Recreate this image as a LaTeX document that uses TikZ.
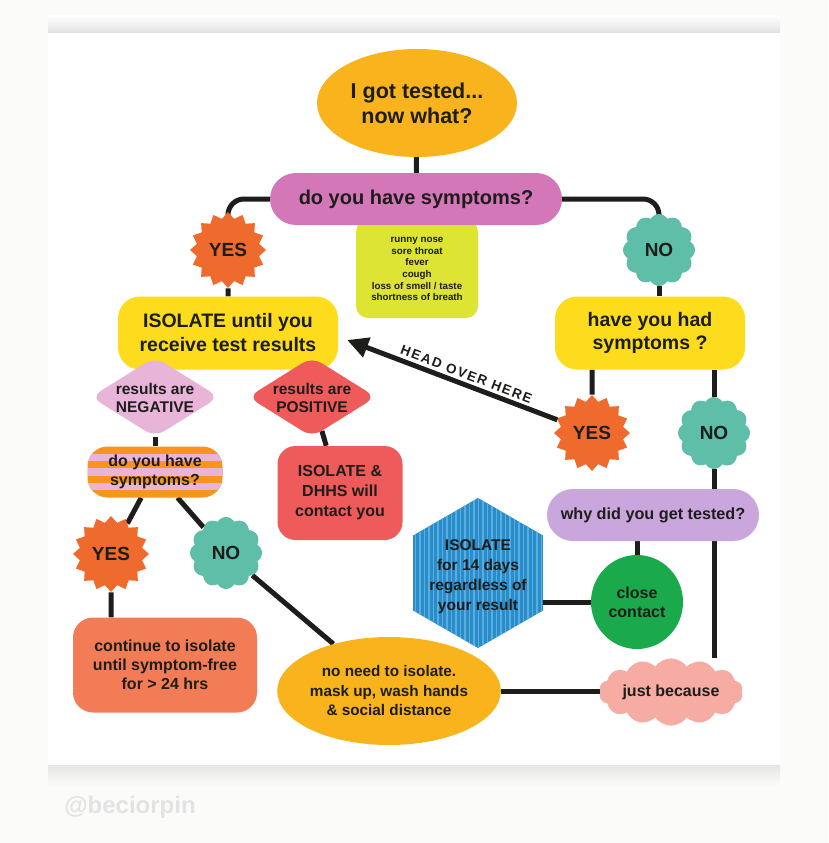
\documentclass[tikz,border=0pt]{standalone}
\usepackage{fontspec}
\setmainfont{Liberation Sans}
\usetikzlibrary{shapes.geometric,shapes.symbols,arrows.meta}

\definecolor{ink}{HTML}{1D1D1B}
\definecolor{tested}{HTML}{F9B31D}
\definecolor{orchid2}{HTML}{D377B8}
\definecolor{citrus}{HTML}{DDE434}
\definecolor{flame}{HTML}{EE6A2D}
\definecolor{mint}{HTML}{5FBEA8}
\definecolor{sun}{HTML}{FCDC1C}
\definecolor{blush}{HTML}{E8B5D9}
\definecolor{coral2}{HTML}{EF5A5B}
\definecolor{tang}{HTML}{F7951E}
\definecolor{salmon2}{HTML}{F27C56}
\definecolor{ocean}{HTML}{2A8CC8}
\definecolor{wave}{HTML}{58AEE0}
\definecolor{leaf}{HTML}{1AA94B}
\definecolor{lavender2}{HTML}{C9A7DC}
\definecolor{peach}{HTML}{F6ABA3}
\definecolor{paperbg}{HTML}{FBFBFA}

\newcommand{\fsz}[2]{\fontsize{#1}{#2}\selectfont\bfseries}
\newcommand{\zerobox}[1]{\makebox[0pt]{\raisebox{-0.5\height}[0pt][0pt]{\begin{tabular}[b]{@{}c@{}}#1\end{tabular}}}}

\pgfdeclarelayer{paper}
\pgfdeclarelayer{links}
\pgfsetlayers{paper,links,main}

\tikzset{
  blob/.style={align=center, text=ink, inner sep=0pt},
  link/.style={draw=ink, line width=5pt},
  yes/.style={blob, star, star points=16, star point ratio=1.2, fill=flame, minimum size=76pt, font=\fsz{19}{22}},
  no/.style={blob, cloud, cloud puffs=12, cloud puff arc=120, aspect=1, fill=mint, minimum size=72pt, font=\fsz{19}{22}},
  kite/.style={blob, diamond, minimum width=128pt, minimum height=80pt, rounded corners=11pt, font=\fsz{15.5}{18}},
}

\begin{document}
\begin{tikzpicture}[x=1pt, y=-1pt, >={Triangle[length=21pt,width=20pt]}]
\useasboundingbox (0,0) rectangle (828,843);
\begin{pgfonlayer}{paper}
  \fill[paperbg] (0,0) rectangle (828,843);
  \shade[top color=white, bottom color=black!12] (48,16) rectangle (780,33);
  \shade[top color=black!10, bottom color=paperbg] (48,765) rectangle (780,786);
  \fill[white] (48,33) rectangle (780,765);
\end{pgfonlayer}

% top
\node[blob, ellipse, fill=tested, minimum width=200pt, minimum height=108pt, font=\fsz{21.5}{25}] (start) at (417,103) {I got tested...\\now what?};
\node[blob, fill=citrus, minimum width=122pt, minimum height=98pt, rounded corners=12pt, font=\fsz{9.8}{11.7}] (list) at (417,269) {runny nose\\sore throat\\fever\\cough\\loss of smell / taste\\shortness of breath};
\node[blob, fill=orchid2, minimum width=292pt, minimum height=52pt, rounded corners=26pt, font=\fsz{20}{24}] (sym) at (416,199) {do you have symptoms?};
\node[yes] (yes1) at (228,250) {YES};
\node[no] (no1) at (659,250) {NO};
\node[blob, fill=sun, minimum width=220pt, minimum height=73pt, rounded corners=22pt, font=\fsz{19.5}{24}] (iso) at (228,333) {ISOLATE until you\\receive test results};
\node[blob, fill=sun, minimum width=190pt, minimum height=73pt, rounded corners=22pt, font=\fsz{19.5}{23}] (had) at (650,333) {have you had\\symptoms ?};

% left branch
\node[kite, fill=blush] (neg) at (155,397) {\zerobox{results are\\NEGATIVE}};
\node[kite, fill=coral2] (pos) at (312,397) {\zerobox{results are\\POSITIVE}};
\node[blob, fill=tang, minimum width=135pt, minimum height=51pt, rounded corners=20pt, font=\fsz{16}{19},
  path picture={\foreach \k in {1,3,5} \fill[blush, sharp corners] (path picture bounding box.north west) ++(0,{7.3*\k}) rectangle ++(140,7.3);}] (stripe) at (155,472) {do you have\\symptoms?};
\node[blob, fill=coral2, minimum width=125pt, minimum height=94pt, rounded corners=18pt, font=\fsz{16}{20}] (dhhs) at (340,493) {ISOLATE \&\\DHHS will\\contact you};
\node[yes] (yes3) at (111,554) {YES};
\node[no] (no3) at (226,553) {NO};
\node[blob, fill=salmon2, minimum width=184pt, minimum height=95pt, rounded corners=20pt, font=\fsz{16}{19}] (cont) at (165,665) {continue to isolate\\until symptom-free\\for > 24 hrs};

% right branch
\node[yes] (yes2) at (592,433) {YES};
\node[no] (no2) at (714,433) {NO};
\node[blob, fill=lavender2, minimum width=212pt, minimum height=52pt, rounded corners=26pt, font=\fsz{16.2}{19}] (why) at (653,515) {why did you get tested?};
\node[blob, regular polygon, regular polygon sides=6, shape border rotate=30, minimum size=150pt, fill=ocean, font=\fsz{15.5}{20},
  path picture={\foreach \k in {-76,-71.5,...,76} \draw[wave, line width=1.1pt] (path picture bounding box.center) ++(\k,-80) -- ++(0,160);}] (hex) at (478,573) {\zerobox{ISOLATE\\for 14 days\\regardless of\\your result}};
\node[blob, ellipse, fill=leaf, minimum width=92pt, minimum height=94pt, font=\fsz{16}{19}] (close) at (637,602) {close\\contact};
\node[blob, cloud, cloud puffs=14, cloud puff arc=110, aspect=2.6, fill=peach, minimum width=144pt, minimum height=56pt, font=\fsz{16}{19}] (just) at (671,692) {just because};
\node[blob, ellipse, fill=tested, minimum width=200pt, minimum height=108pt, font=\fsz{15.3}{19.5}] (nn) at (389,691) {no need to isolate.\\mask up, wash hands\\\& social distance};

\begin{pgfonlayer}{links}
  \draw[link] (start) -- (sym);
  \draw[link, rounded corners=16pt] (sym.west) -| (yes1.north);
  \draw[link, rounded corners=16pt] (sym.east) -| (no1.north);
  \draw[link] (yes1) -- (iso);
  \draw[link] (no1) -- (no1 |- had.north);
  \draw[link] (had.south -| yes2) -- (yes2);
  \draw[link] (had.south -| no2) -- (no2);
  \draw[link] (no2) -- (no2 |- why.north);
  \draw[link] (why.south -| close) -- (close);
  \draw[link] (why.south -| no2) -- (no2 |- just.north);
  \draw[link] (close) -- (close -| hex.east);
  \draw[link] (nn) -- (nn -| just.west);
  \draw[link] (neg) -- (stripe);
  \draw[link] (pos) -- (dhhs);
  \draw[link] (stripe) -- (yes3);
  \draw[link] (stripe) -- (no3);
  \draw[link] (yes3) -- (yes3 |- cont.north);
  \draw[link] (no3) -- (nn);
\end{pgfonlayer}

\draw[link, ->] (yes2) -- ([shift={(9,7)}]iso.east)
  node[blob, pos=0.45, sloped, above=3pt, font=\fsz{13.5}{15}\addfontfeatures{LetterSpace=12}] (tag) {HEAD OVER HERE};

\node[font=\fsz{24}{28}, text=black!11] (mark) at (130,807) {@beciorpin};
\end{tikzpicture}
\end{document}
